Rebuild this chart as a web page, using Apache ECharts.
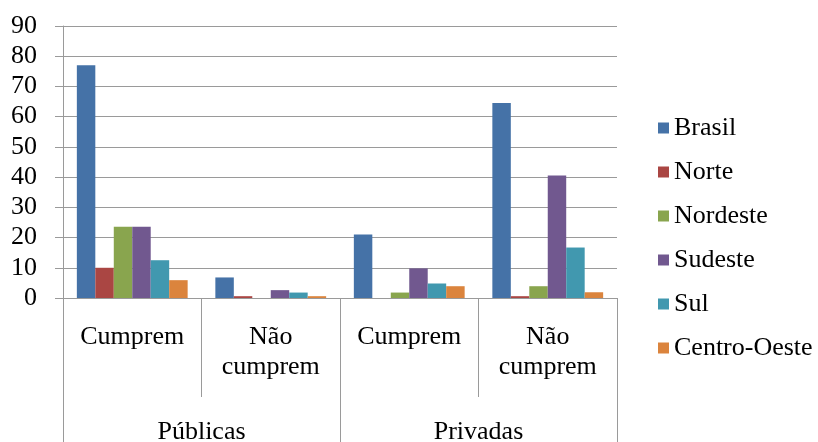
<!DOCTYPE html>
<html>
<head>
<meta charset="utf-8">
<script src="https://cdn.jsdelivr.net/npm/echarts@6/dist/echarts.min.js"></script>
<style>
html,body{margin:0;padding:0;background:#fff;}
#chart{width:818px;height:442px;}
</style>
</head>
<body>
<div id="chart"></div>
<script>
// Data
var innerCategories = ['Cumprem', 'Não\ncumprem', 'Cumprem', 'Não\ncumprem'];
var outerCategories = ['Públicas', 'Privadas'];
var seriesNames = ['Brasil', 'Norte', 'Nordeste', 'Sudeste', 'Sul', 'Centro-Oeste'];
var brasil = [77, 6.8, 21, 64.5];
var norte = [10, 0.6, 0, 0.6];
var nordeste = [23.6, 0, 1.8, 3.9];
var sudeste = [23.6, 2.6, 9.8, 40.5];
var sul = [12.5, 1.8, 4.8, 16.7];
var centroOeste = [5.9, 0.6, 3.9, 1.9];
var yTicks = [0, 10, 20, 30, 40, 50, 60, 70, 80, 90];

var colors = ['#4572A7', '#AA4643', '#89A54E', '#71588F', '#4198AF', '#DB843D'];
var seriesData = [brasil, norte, nordeste, sudeste, sul, centroOeste];

var font = 'Liberation Serif';
var gray = '#9a9a9a';

var chart = echarts.init(document.getElementById('chart'));
chart.setOption({
  animation: false,
  color: colors,
  textStyle: { fontFamily: font },
  grid: { left: 63, right: 201, top: 26, bottom: 144, containLabel: false, outerBoundsMode: 'none' },
  legend: {
    orient: 'vertical',
    left: 653,
    top: 110,
    itemWidth: 11,
    itemHeight: 11,
    itemGap: 18,
    icon: 'rect',
    textStyle: { fontFamily: font, fontSize: 26, lineHeight: 26, color: '#000' },
    data: seriesNames
  },
  xAxis: [
    {
      type: 'category',
      data: innerCategories,
      position: 'bottom',
      axisLine: { show: true, lineStyle: { color: gray, width: 1 } },
      axisTick: { show: true, interval: 0, length: 99, lineStyle: { color: gray, width: 1 } },
      axisLabel: { interval: 0, margin: 24, fontFamily: font, fontSize: 26, lineHeight: 30, color: '#000' },
      splitLine: { show: false }
    },
    {
      type: 'category',
      data: outerCategories,
      position: 'bottom',
      offset: 0,
      axisLine: { show: false },
      axisTick: { show: true, interval: 0, length: 150, lineStyle: { color: gray, width: 1 } },
      axisLabel: { interval: 0, margin: 119, fontFamily: font, fontSize: 26, lineHeight: 30, color: '#000' },
      splitLine: { show: false }
    }
  ],
  yAxis: {
    type: 'value',
    min: 0,
    max: 90,
    interval: 10,
    axisLine: { show: true, lineStyle: { color: gray, width: 1 } },
    axisTick: { show: true, length: 8, lineStyle: { color: gray, width: 1 } },
    axisLabel: { margin: 26, align: 'right', fontFamily: font, fontSize: 26, color: '#000',
      formatter: function (v) { return yTicks.indexOf(v) >= 0 ? String(v) : ''; } },
    splitLine: { show: true, lineStyle: { color: gray, width: 1 } }
  },
  series: seriesNames.map(function (name, i) {
    return {
      name: name,
      type: 'bar',
      xAxisIndex: 0,
      data: seriesData[i],
      barGap: '0%',
      barCategoryGap: '20%',
      itemStyle: { color: colors[i] }
    };
  })
});
</script>
</body>
</html>
